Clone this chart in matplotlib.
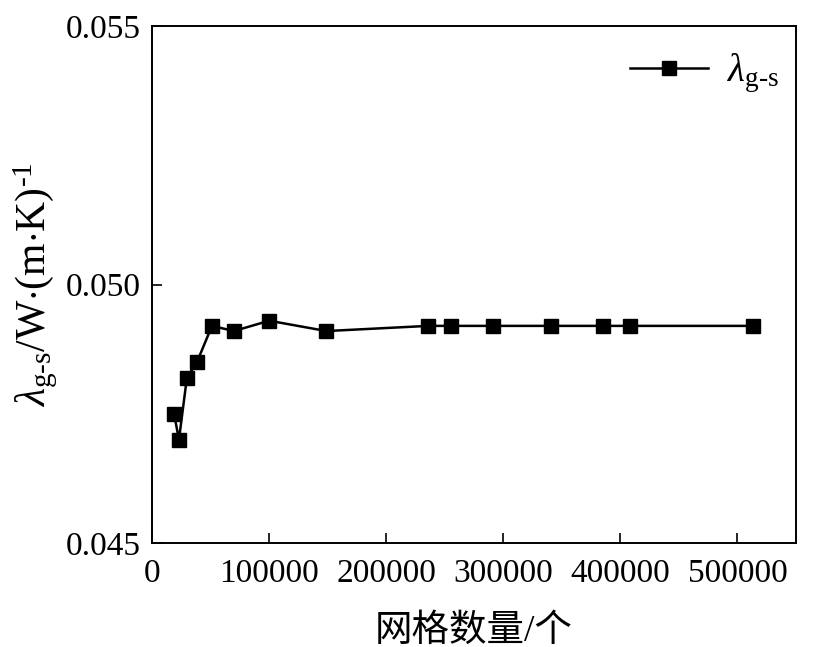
import numpy as np
import matplotlib.pyplot as plt

# 数据
grid_counts = [18800, 23000, 29800, 38400, 51200, 70000, 100000, 149000,
               236000, 255000, 291000, 341000, 385000, 408000, 513000]
lambda_gs = [0.0475, 0.0470, 0.0482, 0.0485, 0.0492, 0.0491, 0.0493, 0.0491,
             0.0492, 0.0492, 0.0492, 0.0492, 0.0492, 0.0492, 0.0492]
x_ticks = [0, 100000, 200000, 300000, 400000, 500000]
y_ticks = [0.045, 0.050, 0.055]

plt.rcParams['font.family'] = ['Liberation Serif', 'Noto Sans CJK SC']
plt.rcParams['mathtext.fontset'] = 'custom'
plt.rcParams['mathtext.rm'] = 'Liberation Serif'
plt.rcParams['mathtext.it'] = 'Liberation Serif:italic'

fig = plt.figure(figsize=(8.2, 6.47), dpi=100)
ax = fig.add_axes([0.1854, 0.1607, 0.7853, 0.7991])

ax.plot(grid_counts, lambda_gs, color='black', linewidth=1.8, marker='s',
        markersize=10.5, label=r'$\lambda_{\text{g-s}}$')

ax.set_xlim(0, 550000)
ax.set_ylim(0.045, 0.055)
ax.set_xticks(x_ticks)
ax.set_yticks(y_ticks)
ax.set_yticklabels(['%.3f' % v for v in y_ticks])
ax.tick_params(direction='in', length=7, width=1.2, labelsize=24, pad=8)
ax.tick_params(axis='x', pad=11)
for s in ax.spines.values():
    s.set_linewidth(1.4)

ax.set_xlabel('网格数量/个', fontsize=27, labelpad=18)
ax.set_ylabel(r'$\lambda_{\text{g-s}}$/W$\cdot$(m$\cdot$K)$^{\text{-1}}$', fontsize=30, labelpad=4)

ax.legend(loc='upper right', frameon=False, fontsize=28, handlelength=2.0,
          handletextpad=0.5, borderaxespad=0.4, bbox_to_anchor=(1.022, 1.01))

plt.savefig('out.png', dpi=100)
